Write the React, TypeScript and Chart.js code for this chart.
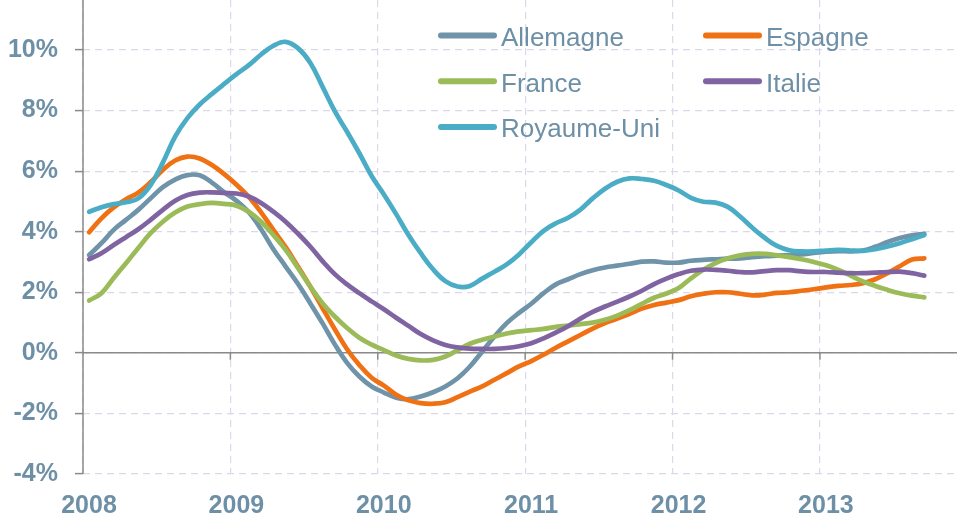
import React, { useEffect, useRef } from 'react';
import { Chart, registerables } from 'chart.js';

Chart.register(...registerables);

// ---- Data (monthly, Jan 2008 .. Sep 2013), % year-on-year ----
const START_YEAR = 2008;
const yearTicks = [2008, 2009, 2010, 2011, 2012, 2013];
const yTickValues = [-4, -2, 0, 2, 4, 6, 8, 10];
const seriesNames = ['Allemagne', 'Espagne', 'France', 'Italie', 'Royaume-Uni'];

const allemagne = [
  3.23, 3.62, 4.06, 4.39, 4.72, 5.10, 5.47, 5.72, 5.87, 5.86, 5.62, 5.30,
  5.02, 4.64, 4.08, 3.42, 2.85, 2.28, 1.64, 0.98, 0.28, -0.33, -0.78, -1.11,
  -1.31, -1.48, -1.53, -1.44, -1.30, -1.11, -0.84, -0.45, 0.04, 0.54, 0.98, 1.32,
  1.62, 1.97, 2.26, 2.43, 2.60, 2.73, 2.82, 2.88, 2.94, 3.01, 3.02, 2.98,
  2.98, 3.04, 3.07, 3.09, 3.11, 3.12, 3.16, 3.19, 3.21, 3.23, 3.25, 3.30,
  3.34, 3.36, 3.35, 3.38, 3.50, 3.66, 3.79, 3.88, 3.93,
];
const espagne = [
  3.98, 4.44, 4.80, 5.07, 5.29, 5.63, 6.04, 6.35, 6.48, 6.42, 6.20, 5.90,
  5.55, 5.15, 4.64, 4.06, 3.49, 2.85, 2.19, 1.48, 0.78, 0.12, -0.40, -0.82,
  -1.08, -1.38, -1.57, -1.66, -1.68, -1.63, -1.46, -1.28, -1.11, -0.89, -0.67, -0.45,
  -0.27, -0.06, 0.17, 0.38, 0.59, 0.80, 0.98, 1.13, 1.29, 1.46, 1.58, 1.66,
  1.74, 1.87, 1.95, 2.00, 2.00, 1.95, 1.90, 1.92, 1.98, 2.00, 2.05, 2.10,
  2.16, 2.21, 2.24, 2.30, 2.43, 2.63, 2.86, 3.08, 3.12,
];
const france = [
  1.73, 1.97, 2.47, 2.96, 3.46, 3.95, 4.33, 4.63, 4.83, 4.91, 4.95, 4.92,
  4.86, 4.66, 4.33, 3.89, 3.40, 2.80, 2.19, 1.64, 1.20, 0.82, 0.50, 0.27,
  0.09, -0.09, -0.20, -0.25, -0.23, -0.12, 0.09, 0.30, 0.43, 0.54, 0.64, 0.71,
  0.75, 0.79, 0.86, 0.90, 0.95, 1.00, 1.09, 1.23, 1.41, 1.62, 1.82, 1.96,
  2.14, 2.46, 2.74, 2.96, 3.12, 3.22, 3.27, 3.27, 3.22, 3.16, 3.09, 3.00,
  2.89, 2.74, 2.55, 2.36, 2.21, 2.08, 1.97, 1.89, 1.83,
];
const italie = [
  3.09, 3.29, 3.56, 3.82, 4.08, 4.39, 4.72, 5.02, 5.21, 5.29, 5.30, 5.28,
  5.26, 5.16, 4.95, 4.66, 4.33, 3.94, 3.51, 3.03, 2.60, 2.26, 1.97, 1.70,
  1.44, 1.16, 0.89, 0.62, 0.41, 0.26, 0.18, 0.14, 0.13, 0.13, 0.16, 0.22,
  0.32, 0.48, 0.67, 0.88, 1.13, 1.35, 1.53, 1.69, 1.86, 2.05, 2.27, 2.45,
  2.60, 2.71, 2.75, 2.74, 2.71, 2.67, 2.66, 2.70, 2.73, 2.73, 2.69, 2.67,
  2.67, 2.65, 2.63, 2.63, 2.65, 2.67, 2.68, 2.63, 2.55,
];
const royaumeUni = [
  4.66, 4.81, 4.91, 4.97, 5.10, 5.54, 6.28, 7.14, 7.75, 8.20, 8.55, 8.88,
  9.20, 9.50, 9.85, 10.14, 10.27, 10.06, 9.58, 8.79, 7.98, 7.30, 6.59, 5.84,
  5.23, 4.58, 3.89, 3.29, 2.76, 2.37, 2.19, 2.21, 2.45, 2.68, 2.92, 3.25,
  3.65, 4.03, 4.28, 4.46, 4.73, 5.10, 5.42, 5.65, 5.76, 5.74, 5.68, 5.54,
  5.36, 5.12, 4.99, 4.96, 4.82, 4.50, 4.13, 3.80, 3.53, 3.39, 3.35, 3.35,
  3.38, 3.40, 3.38, 3.37, 3.42, 3.51, 3.62, 3.75, 3.89,
];

const seriesValues = [allemagne, espagne, france, italie, royaumeUni];
const seriesColors = ['#6F93A8', '#F07113', '#9BBB59', '#8064A2', '#4BACC6'];

// ---- Style ----
const FONT = '"Liberation Sans", Arial, sans-serif';
const TEXT_COLOR = '#6E90A7';
const GRID_COLOR = '#DDD8E8';
const AXIS_COLOR = '#8A8A8A';

const monthX = (i: number) => START_YEAR + (i + 0.5) / 12;

const axisPlugin = {
  id: 'zeroAxis',
  beforeDatasetsDraw(chart: any) {
    const { ctx, chartArea, scales } = chart;
    const x = scales.x;
    const y = scales.y;
    const y0 = y.getPixelForValue(0);
    ctx.save();
    ctx.strokeStyle = AXIS_COLOR;
    ctx.lineWidth = 1.5;
    ctx.setLineDash([]);
    ctx.beginPath();
    ctx.moveTo(chartArea.left, y0);
    ctx.lineTo(chartArea.right, y0);
    ctx.moveTo(chartArea.left, chartArea.top);
    ctx.lineTo(chartArea.left, chartArea.bottom);
    yearTicks.forEach((v) => {
      if (v === START_YEAR) return;
      const px = x.getPixelForValue(v);
      ctx.moveTo(px, y0);
      ctx.lineTo(px, y0 + 7);
    });
    ctx.stroke();
    ctx.restore();
  },
};

const legendPlugin = {
  id: 'gridLegend',
  afterDatasetsDraw(chart: any) {
    const { ctx } = chart;
    const colX = [441, 706];
    const baseY = 46;
    const rowH = 45.7;
    ctx.save();
    ctx.font = `26px ${FONT}`;
    ctx.textBaseline = 'alphabetic';
    ctx.textAlign = 'left';
    chart.data.datasets.forEach((ds: any, i: number) => {
      const col = i % 2;
      const row = Math.floor(i / 2);
      const lx = colX[col];
      const by = baseY + row * rowH;
      ctx.strokeStyle = ds.borderColor;
      ctx.lineWidth = 6;
      ctx.lineCap = 'round';
      ctx.setLineDash([]);
      ctx.beginPath();
      ctx.moveTo(lx, by - 10.5);
      ctx.lineTo(lx + 53, by - 10.5);
      ctx.stroke();
      ctx.fillStyle = TEXT_COLOR;
      ctx.fillText(ds.label, lx + 60, by);
    });
    ctx.restore();
  },
};

export default function App() {
  const canvasRef = useRef<HTMLCanvasElement | null>(null);

  useEffect(() => {
    if (!canvasRef.current) return;
    const datasets = seriesNames.map((name, si) => ({
      label: name,
      data: seriesValues[si].map((v, i) => ({ x: monthX(i), y: v })),
      borderColor: seriesColors[si],
      backgroundColor: seriesColors[si],
      borderWidth: 4.7,
      borderCapStyle: 'round',
      borderJoinStyle: 'round',
      pointRadius: 0,
      tension: 0.4,
      fill: false,
      order: seriesNames.length - si,
    }));

    const chart = new Chart(canvasRef.current, {
      type: 'line',
      data: { datasets },
      plugins: [axisPlugin, legendPlugin],
      options: {
        animation: false,
        responsive: false,
        devicePixelRatio: 1,
        layout: { padding: 0 },
        plugins: {
          legend: { display: false },
          tooltip: { enabled: false },
        },
        scales: {
          x: {
            type: 'linear',
            bounds: 'data',
            min: 2008,
            max: 2013.93,
            border: { display: false, dash: [7, 5] },
            grid: {
              color: GRID_COLOR,
              lineWidth: 1.2,
              drawTicks: false,
            },
            ticks: {
              stepSize: 1,
              includeBounds: false,
              autoSkip: false,
              maxRotation: 0,
              padding: 17,
              labelOffset: 6,
              color: TEXT_COLOR,
              font: { family: FONT, size: 25, weight: 'bold' },
              callback: (v: any) => String(v),
            },
            afterBuildTicks: (scale: any) => {
              scale.ticks = scale.ticks.filter((t: any) => yearTicks.includes(t.value));
            },
            afterFit: (scale: any) => {
              scale.height = 45;
              scale.paddingLeft = 0;
              scale.paddingRight = 0;
            },
          },
          y: {
            type: 'linear',
            bounds: 'data',
            min: -4,
            max: 11.65,
            border: { display: false, dash: [7, 5] },
            grid: {
              color: GRID_COLOR,
              lineWidth: 1.2,
              drawTicks: true,
              tickLength: 8,
              tickColor: AXIS_COLOR,
              tickWidth: 1.5,
              tickBorderDash: [],
            },
            ticks: {
              stepSize: 2,
              includeBounds: false,
              padding: 17,
              color: TEXT_COLOR,
              font: { family: FONT, size: 25, weight: 'bold' },
              callback: (v: any) => `${v}%`,
            },
            afterBuildTicks: (scale: any) => {
              scale.ticks = scale.ticks.filter((t: any) => yTickValues.includes(t.value));
            },
            afterFit: (scale: any) => {
              scale.width = 83;
              scale.paddingTop = 0;
              scale.paddingBottom = 0;
            },
          },
        },
      } as any,
    });
    return () => chart.destroy();
  }, []);

  return (
    <div
      style={{
        position: 'fixed',
        left: 0,
        top: 0,
        width: 957,
        height: 519,
        overflow: 'hidden',
        background: '#ffffff',
      }}
    >
      <canvas ref={canvasRef} width={957} height={519} style={{ display: 'block' }} />
    </div>
  );
}
